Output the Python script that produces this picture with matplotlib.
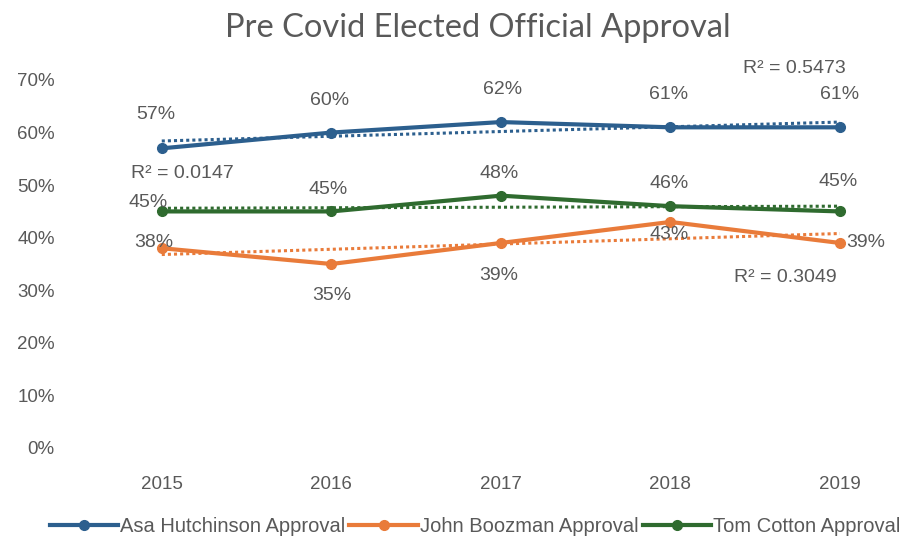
import matplotlib.pyplot as plt
import numpy as np
from matplotlib.ticker import PercentFormatter

# approval ratings by year (percent)
years = ['2015', '2016', '2017', '2018', '2019']
asa = [57, 60, 62, 61, 61]
boozman = [38, 35, 39, 43, 39]
cotton = [45, 45, 48, 46, 45]

series_names = ['Asa Hutchinson Approval', 'John Boozman Approval', 'Tom Cotton Approval']
colors = ['#2c5f8e', '#e97b3a', '#2f6b2f']

# data label offsets in pixels (dx, dy) per point
asa_off = [(-6, 34), (-2, 32), (2, 33), (-2, 33), (0, 33)]
boozman_off = [(-8, 6), (0, -32), (-2, -33), (-1, -13), (26, 0)]
cotton_off = [(-14, 9), (-3, 22), (-2, 22), (-1, 23), (-2, 30)]

# R² label anchors (data coords), same order as series
r2_pos = [(3.73, 72.2), (3.68, 32.4), (0.12, 52.2)]

grey = '#595959'
plt.rcParams['font.family'] = ['Liberation Sans Narrow', 'Liberation Sans', 'DejaVu Sans']

fig = plt.figure(figsize=(9.12, 5.42), dpi=100)
ax = fig.add_axes([77 / 912, 94 / 542, 835 / 912, 368 / 542])

x = np.arange(len(years))
all_series = [asa, boozman, cotton]
offsets = [asa_off, boozman_off, cotton_off]

handles = []
for vals, name, col, offs, rp in zip(all_series, series_names, colors, offsets, r2_pos):
    vals = np.array(vals, dtype=float)
    h, = ax.plot(x, vals, color=col, lw=3, marker='o', ms=7, label=name, zorder=3)
    handles.append(h)

    # linear trendline with R²
    slope, icpt = np.polyfit(x, vals, 1)
    fit = slope * x + icpt
    r2 = 1 - np.sum((vals - fit) ** 2) / np.sum((vals - vals.mean()) ** 2)
    ax.plot(x, fit, color=col, lw=2.2, ls=(0, (1, 1)), zorder=2)
    ax.text(rp[0], rp[1], 'R² = %.4f' % r2, color=grey, fontsize=14,
            ha='center', va='center')

    for xi, v, (dx, dy) in zip(x, vals, offs):
        ax.annotate('%d%%' % v, (xi, v), xytext=(dx * 0.72, dy * 0.72),
                    textcoords='offset points', ha='center', va='center',
                    color=grey, fontsize=14, zorder=4)

ax.set_xlim(-0.5, 4.425)
ax.set_ylim(0, 70)
ax.set_xticks(x)
ax.set_xticklabels(years)
ax.set_yticks(np.arange(0, 71, 10))
ax.yaxis.set_major_formatter(PercentFormatter(decimals=0))
ax.tick_params(length=0, colors=grey, labelsize=13.5)
ax.tick_params(axis='x', pad=20)
ax.tick_params(axis='y', pad=16)
for s in ax.spines.values():
    s.set_visible(False)

fig.text(478 / 912, 1 - 28 / 542, 'Pre Covid Elected Official Approval', ha='center',
         va='center', fontsize=23.5, color=grey, family=['Lato', 'DejaVu Sans'])

fig.legend(handles=handles, loc='center', bbox_to_anchor=(475 / 912, 15 / 542), ncol=3,
           frameon=False, fontsize=14.5, labelcolor=grey, handlelength=3.4,
           handletextpad=0.1, columnspacing=0.2, borderaxespad=0)

fig.savefig('out.png', dpi=100)
